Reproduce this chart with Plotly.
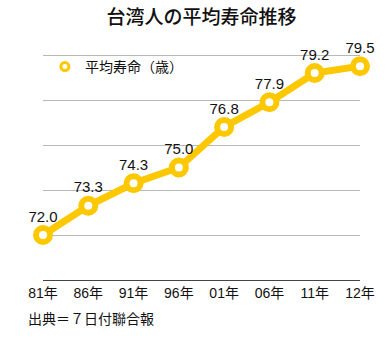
import plotly.graph_objects as go

years = ["81年", "86年", "91年", "96年", "01年", "06年", "11年", "12年"]
life_expectancy = [72.0, 73.3, 74.3, 75.0, 76.8, 77.9, 79.2, 79.5]
series_name = "平均寿命（歳）"
title_text = "台湾人の平均寿命推移"
source_text = "出典＝７日付聯合報"

GOLD = "#FDC800"
FONT = "Helvetica, Arial, 'Liberation Sans', 'Noto Sans CJK JP', sans-serif"

fig = go.Figure()

fig.add_trace(go.Scatter(
    x=years,
    y=life_expectancy,
    mode="lines+markers+text",
    text=[f"{v:.1f}" for v in life_expectancy],
    textposition="top center",
    textfont=dict(size=15, color="#111111", family=FONT),
    line=dict(color=GOLD, width=7),
    marker=dict(size=14, color="white", line=dict(color=GOLD, width=6)),
    cliponaxis=False,
    showlegend=False,
))

# legend entry shown as a ring marker only
fig.add_trace(go.Scatter(
    x=[None], y=[None],
    mode="markers",
    name=series_name,
    marker=dict(size=8, color="white", line=dict(color=GOLD, width=3)),
))

plot_top, plot_bottom = 44, 62
plot_h = 342 - plot_top - plot_bottom

fig.update_layout(
    width=391, height=342,
    margin=dict(l=43, r=31, t=plot_top, b=plot_bottom),
    paper_bgcolor="white",
    plot_bgcolor="white",
    font=dict(family=FONT, size=14, color="#111111"),
    title=dict(
        text=title_text,
        x=(43 + 360) / 2 / 391, xanchor="center",
        y=1 - 17 / 342, yanchor="middle",
        font=dict(size=19, color="#111111", family=FONT, weight=500),
    ),
    legend=dict(
        x=0.006, y=1 - (67 - plot_top) / plot_h, xanchor="left", yanchor="middle",
        bgcolor="rgba(0,0,0,0)",
        font=dict(size=14, color="#111111", family=FONT),
    ),
    annotations=[dict(
        text=source_text, xref="paper", yref="paper",
        x=-17 / 317, y=-38 / plot_h, xanchor="left", yanchor="middle",
        showarrow=False,
        font=dict(size=14, color="#111111", family="'Noto Sans CJK JP', sans-serif"),
    )],
)

fig.update_xaxes(
    type="category",
    range=[0, 7],
    showgrid=False,
    showline=True, linecolor="#444444", linewidth=1,
    ticks="", tickfont=dict(size=14, color="#111111"),
    zeroline=False,
)
fig.update_yaxes(
    range=[70, 70 + plot_h / 22.5],
    tickvals=[72, 74, 76, 78, 80],
    showgrid=True, gridcolor="#B8B8B8", gridwidth=1,
    showticklabels=False,
    zeroline=False,
    showline=False,
)

fig.write_html("out.html")
